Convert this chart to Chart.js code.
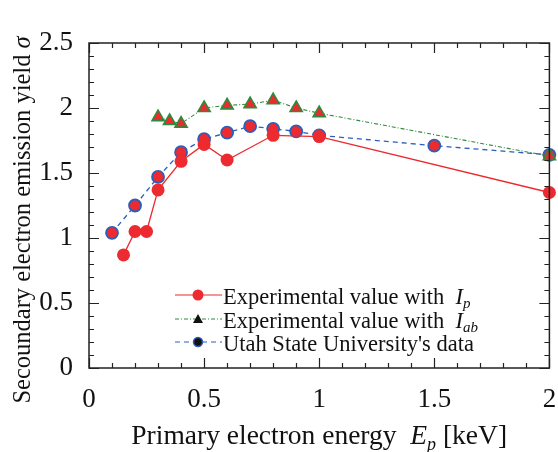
<!DOCTYPE html>
<html>
<head>
<meta charset="utf-8">
<script src="https://cdn.jsdelivr.net/npm/chart.js@4"></script>
<style>
	html, body { margin: 0; padding: 0; background: #fff; }
	#wrap { width: 558px; height: 452px; }
</style>
</head>
<body>
<div id="wrap"><canvas id="chart-sey"></canvas></div>
<script>
// Data
const ENERGY_IP = [0.15, 0.2, 0.25, 0.3, 0.4, 0.5, 0.6, 0.8, 1.0, 2.0];
const YIELD_IP = [0.87, 1.05, 1.05, 1.37, 1.59, 1.72, 1.60, 1.79, 1.78, 1.35];

const ENERGY_IAB = [0.3, 0.35, 0.4, 0.5, 0.6, 0.7, 0.8, 0.9, 1.0, 2.0];
const YIELD_IAB = [1.93, 1.90, 1.88, 2.00, 2.02, 2.03, 2.06, 2.00, 1.96, 1.63];

const ENERGY_USU = [0.1, 0.2, 0.3, 0.4, 0.5, 0.6, 0.7, 0.8, 0.9, 1.0, 1.5, 2.0];
const YIELD_USU = [1.04, 1.25, 1.47, 1.66, 1.76, 1.81, 1.86, 1.84, 1.82, 1.79, 1.71, 1.64];

const X_TICKS = [0, 0.5, 1, 1.5, 2];
const Y_TICKS = [0, 0.5, 1, 1.5, 2, 2.5];

const RED = "#ec2a2f";
const GREEN = "#2f8a3c";
const BLUE = "#2c5fb9";
const SERIF = '"Liberation Serif", "Times New Roman", serif';

const toPoints = (xs, ys) => xs.map((x, i) => ({ x: x, y: ys[i] }));

// Frame with inward major/minor ticks on all four sides
const framePlugin = {
	id: "frame",
	afterDatasetsDraw(chart) {
		const { ctx, chartArea: a, scales } = chart;
		ctx.save();
		ctx.strokeStyle = "#222";
		ctx.lineWidth = 1.5;
		ctx.strokeRect(a.left, a.top, a.right - a.left, a.bottom - a.top);
		ctx.lineWidth = 1.2;
		ctx.beginPath();
		for (let i = 0; i <= 20; i++) {
			const px = Math.round(scales.x.getPixelForValue(i * 0.1)) + 0.5;
			const len = i % 5 === 0 ? 10 : 5;
			ctx.moveTo(px, a.bottom); ctx.lineTo(px, a.bottom - len);
			ctx.moveTo(px, a.top); ctx.lineTo(px, a.top + len);
		}
		for (let i = 0; i <= 25; i++) {
			const py = Math.round(scales.y.getPixelForValue(i * 0.1)) + 0.5;
			const len = i % 5 === 0 ? 10 : 5;
			ctx.moveTo(a.left, py); ctx.lineTo(a.left + len, py);
			ctx.moveTo(a.right, py); ctx.lineTo(a.right - len, py);
		}
		ctx.stroke();
		ctx.restore();
	},
};

// Axis titles with italic symbols and subscripts
const titlesPlugin = {
	id: "titles",
	afterDraw(chart) {
		const { ctx, chartArea: a } = chart;
		ctx.save();
		ctx.fillStyle = "#111";
		ctx.textBaseline = "alphabetic";

		// x title
		const xParts = [
			{ t: "Primary electron energy  ", f: `27.5px ${SERIF}`, dy: 0 },
			{ t: "E", f: `italic 27.5px ${SERIF}`, dy: 0 },
			{ t: "p", f: `italic 18px ${SERIF}`, dy: 6 },
			{ t: " [keV]", f: `27.5px ${SERIF}`, dy: 0 },
		];
		let w = 0;
		xParts.forEach((p) => { ctx.font = p.f; w += ctx.measureText(p.t).width; });
		let x = (a.left + a.right) / 2 - w / 2;
		xParts.forEach((p) => {
			ctx.font = p.f;
			ctx.fillText(p.t, x, 444 + p.dy);
			x += ctx.measureText(p.t).width;
		});

		// y title
		ctx.translate(30, 220);
		ctx.rotate(-Math.PI / 2);
		const yParts = [
			{ t: "Secoundary electron emission yield ", f: `24.5px ${SERIF}` },
			{ t: "σ", f: `italic 24.5px ${SERIF}` },
		];
		w = 0;
		yParts.forEach((p) => { ctx.font = p.f; w += ctx.measureText(p.t).width; });
		x = -w / 2;
		yParts.forEach((p) => {
			ctx.font = p.f;
			ctx.fillText(p.t, x, 0);
			x += ctx.measureText(p.t).width;
		});
		ctx.restore();
	},
};

// Legend drawn inside the plot area
const legendPlugin = {
	id: "customLegend",
	afterDraw(chart) {
		const { ctx } = chart;
		const rows = [
			{ y: 295, color: RED, dash: [], marker: "redDot", label: ["Experimental value with  ", "I", "p"] },
			{ y: 319, color: GREEN, dash: [4, 2, 1, 2], marker: "tri", label: ["Experimental value with  ", "I", "ab"] },
			{ y: 342, color: BLUE, dash: [5, 4], marker: "blueDot", label: ["Utah State University's data", "", ""] },
		];
		const x0 = 175, x1 = 222, xm = 198;
		ctx.save();
		rows.forEach((r) => {
			ctx.strokeStyle = r.color;
			ctx.lineWidth = 1.2;
			ctx.setLineDash(r.dash);
			ctx.beginPath();
			ctx.moveTo(x0, r.y); ctx.lineTo(x1, r.y);
			ctx.stroke();
			ctx.setLineDash([]);
			if (r.marker === "redDot") {
				ctx.fillStyle = RED;
				ctx.beginPath(); ctx.arc(xm, r.y, 5.5, 0, Math.PI * 2); ctx.fill();
			} else if (r.marker === "tri") {
				ctx.fillStyle = "#111";
				ctx.beginPath();
				ctx.moveTo(xm, r.y - 5); ctx.lineTo(xm + 5, r.y + 4); ctx.lineTo(xm - 5, r.y + 4);
				ctx.closePath(); ctx.fill();
			} else {
				ctx.fillStyle = "#111";
				ctx.strokeStyle = BLUE;
				ctx.lineWidth = 1.5;
				ctx.beginPath(); ctx.arc(xm, r.y, 4.5, 0, Math.PI * 2); ctx.fill(); ctx.stroke();
			}
			ctx.fillStyle = "#111";
			ctx.textBaseline = "alphabetic";
			let x = x1 + 1;
			ctx.font = `22.5px ${SERIF}`;
			ctx.fillText(r.label[0], x, r.y + 9);
			x += ctx.measureText(r.label[0]).width;
			if (r.label[1]) {
				ctx.font = `italic 22.5px ${SERIF}`;
				ctx.fillText(r.label[1], x, r.y + 9);
				x += ctx.measureText(r.label[1]).width;
				ctx.font = `italic 15px ${SERIF}`;
				ctx.fillText(r.label[2], x, r.y + 13);
			}
		});
		ctx.restore();
	},
};

const CHART_DATA = {
	datasets: [
		{
			label: "Experimental value with Ip",
			data: toPoints(ENERGY_IP, YIELD_IP),
			borderColor: RED,
			borderWidth: 1.3,
			backgroundColor: RED,
			pointRadius: 6.5,
			pointBorderWidth: 0,
			pointBackgroundColor: RED,
			pointStyle: "circle",
			order: 1,
		},
		{
			label: "Experimental value with Iab",
			data: toPoints(ENERGY_IAB, YIELD_IAB),
			borderColor: GREEN,
			borderWidth: 1.1,
			borderDash: [4, 2, 1, 2],
			pointStyle: "triangle",
			pointRadius: 7,
			pointBorderWidth: 1.6,
			pointBorderColor: GREEN,
			pointBackgroundColor: RED,
			order: 2,
		},
		{
			label: "Utah State University's data",
			data: toPoints(ENERGY_USU, YIELD_USU),
			borderColor: BLUE,
			borderWidth: 1.3,
			borderDash: [5, 4],
			pointStyle: "circle",
			pointRadius: 6,
			pointBorderWidth: 1.8,
			pointBorderColor: BLUE,
			pointBackgroundColor: RED,
			order: 3,
		},
	],
};

const CHART_CONFIG = {
	type: "line",
	data: CHART_DATA,
	options: {
		responsive: true,
		maintainAspectRatio: false,
		animation: false,
		clip: false,
		layout: {
			padding: { left: 0, right: 8, top: 43, bottom: 0 },
		},
		elements: {
			line: { tension: 0, fill: false },
		},
		scales: {
			x: {
				type: "linear",
				min: 0,
				max: 2,
				border: { display: false },
				grid: { display: false },
				afterBuildTicks: (scale) => { scale.ticks = X_TICKS.map((v) => ({ value: v })); },
				afterFit: (scale) => {
					scale.height = 84;
					scale.paddingLeft = 0;
					scale.paddingRight = 0;
				},
				ticks: {
					color: "#111",
					padding: 8,
					maxRotation: 0,
					font: { family: SERIF, size: 27 },
					callback: (v) => String(v),
				},
			},
			y: {
				min: 0,
				max: 2.5,
				border: { display: false },
				grid: { display: false },
				afterBuildTicks: (scale) => { scale.ticks = Y_TICKS.map((v) => ({ value: v })); },
				afterFit: (scale) => {
					scale.width = 89;
					scale.paddingTop = 0;
					scale.paddingBottom = 0;
				},
				ticks: {
					color: "#111",
					padding: 8,
					font: { family: SERIF, size: 27 },
					callback: (v) => String(v),
				},
			},
		},
		plugins: {
			legend: { display: false },
			tooltip: { enabled: false },
		},
	},
	plugins: [framePlugin, titlesPlugin, legendPlugin],
};

new Chart(document.getElementById("chart-sey"), CHART_CONFIG);
</script>
</body>
</html>
